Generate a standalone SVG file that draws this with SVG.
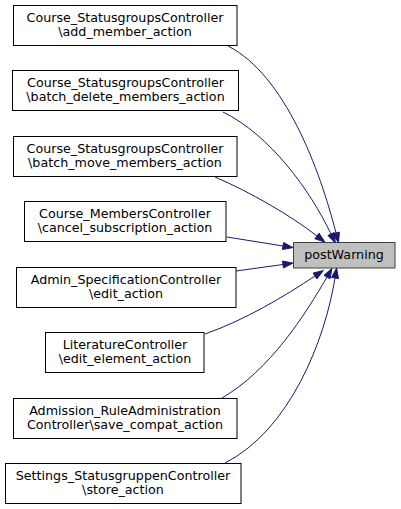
<svg xmlns="http://www.w3.org/2000/svg" width="401" height="509" viewBox="0 0 401 509">
<style>
.n rect{fill:#ffffff;stroke:#000000;stroke-width:1}
#postWarning rect{fill:#bfbfbf;stroke:#404040}
text{font-family:"DejaVu Sans",sans-serif;font-size:12.7px;fill:#000000;text-anchor:middle}
.e path{fill:none;stroke:#191970;stroke-width:1}
.e polygon{fill:#191970;stroke:#191970;stroke-width:1}
</style>
<rect width="401" height="509" fill="#ffffff"/>
<g id="postWarning" class="n">
<rect x="293.5" y="242.5" width="101.5" height="25.5"/>
<text x="344" y="259">postWarning</text>
</g>
<g id="n1" class="n">
<rect x="13.5" y="5.5" width="223.5" height="40"/>
<text x="125" y="22">Course_StatusgroupsController</text>
<text x="125" y="36">\add_member_action</text>
</g>
<g id="n2" class="n">
<rect x="12.5" y="70.5" width="226" height="40"/>
<text x="125.5" y="87">Course_StatusgroupsController</text>
<text x="125.5" y="101">\batch_delete_members_action</text>
</g>
<g id="n3" class="n">
<rect x="13.5" y="136.5" width="223.5" height="40"/>
<text x="125" y="153">Course_StatusgroupsController</text>
<text x="125" y="167">\batch_move_members_action</text>
</g>
<g id="n4" class="n">
<rect x="24.5" y="201.5" width="201.5" height="40"/>
<text x="125" y="218">Course_MembersController</text>
<text x="125" y="232">\cancel_subscription_action</text>
</g>
<g id="n5" class="n">
<rect x="16.5" y="267.5" width="219.5" height="40"/>
<text x="126" y="284">Admin_SpecificationController</text>
<text x="126" y="298">\edit_action</text>
</g>
<g id="n6" class="n">
<rect x="45.5" y="332.5" width="158.5" height="40"/>
<text x="125" y="349">LiteratureController</text>
<text x="125" y="363">\edit_element_action</text>
</g>
<g id="n7" class="n">
<rect x="13.5" y="398.5" width="223.5" height="40"/>
<text x="125" y="415">Admission_RuleAdministration</text>
<text x="125" y="429">Controller\save_compat_action</text>
</g>
<g id="n8" class="n">
<rect x="5.5" y="463.5" width="235.5" height="40"/>
<text x="123" y="480">Settings_StatusgruppenController</text>
<text x="123" y="494">\store_action</text>
</g>
<g id="edges" class="e">
<path d="M228,46 C285,75 320,170 336,233"/>
<polygon points="332.6,233.9 339.4,232.1 338.5,242.7"/>
<path d="M223,112 C270,135 310,190 331,234"/>
<polygon points="327.9,235.5 334.2,232.5 335.3,243"/>
<path d="M215,177 C250,192 290,215 317,236"/>
<polygon points="314.9,238.8 319.1,233.2 324.9,242.1"/>
<path d="M227,237 L283,246"/>
<polygon points="282.4,249.5 283.6,242.5 292.9,247.6"/>
<path d="M236,271 L283,264.5"/>
<polygon points="283.5,268 282.5,261 292.9,263.1"/>
<path d="M205,334 C245,320 285,296 315,276"/>
<polygon points="316.9,278.9 313.1,273.1 323.3,270.5"/>
<path d="M222,398 C270,370 305,315 327,277"/>
<polygon points="330,278.8 324,275.3 332,268.3"/>
<path d="M225,463 C290,430 325,340 335,278"/>
<polygon points="338.5,278.6 331.5,277.4 336.6,268.1"/>
</g>
</svg>
